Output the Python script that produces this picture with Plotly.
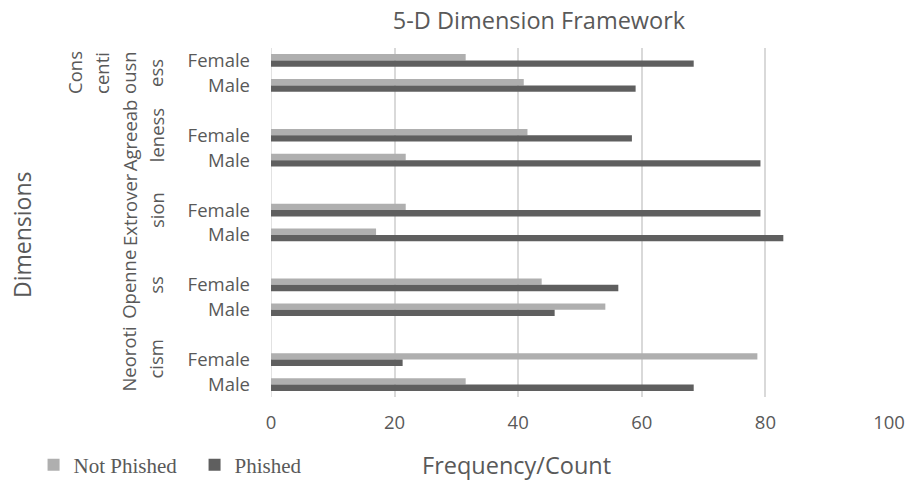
import plotly.graph_objects as go

# ---- data ----
dimensions = ["Conscientiousness", "Agreeableness", "Extroversion", "Openness", "Neoroticism"]
dimension_label_lines = [["Cons", "centi", "ousn", "ess"],
                         ["Agreeab", "leness"],
                         ["Extrover", "sion"],
                         ["Openne", "ss"],
                         ["Neoroti", "cism"]]
genders = ["Female", "Male"]
not_phished = [31.5, 40.9, 41.5, 21.8, 21.8, 17.0, 43.8, 54.1, 78.7, 31.5]
phished = [68.4, 59.0, 58.4, 79.2, 79.2, 82.9, 56.2, 45.9, 21.3, 68.4]
x_ticks = [0, 20, 40, 60, 80, 100]

# ---- style ----
W, H = 907, 481
ML, MR, MT, MB = 271, 18, 48, 84
FONT = "Open Sans"
TXT = "#595959"
C_LIGHT = "#afafaf"
C_DARK = "#5f5f5f"
GRID = "#d9d9d9"

# slot positions (top to bottom), a blank slot between dimension groups
slots = []
for g in range(len(dimensions)):
    for j in range(len(genders)):
        slots.append(3 * g + j)
tick_text = [genders[j] for g in range(len(dimensions)) for j in range(len(genders))]
n_slots = slots[-1] + 1

fig = go.Figure()
fig.add_trace(go.Bar(y=slots, x=not_phished, orientation="h", name="Not Phished",
                     marker=dict(color=C_LIGHT, line=dict(width=0))))
fig.add_trace(go.Bar(y=slots, x=phished, orientation="h", name="Phished",
                     marker=dict(color=C_DARK, line=dict(width=0))))

annotations = []
# dimension group labels (rotated, wrapped)
col_step = 27
last_col_x = 156  # px from left of figure (center of last line)
for g, lines in enumerate(dimension_label_lines):
    if g == 0:
        yc = (slots[0] + slots[1]) / 2
    else:
        yc = 3 * g
    n = len(lines)
    for k, line in enumerate(lines):
        xpx = last_col_x - (n - 1 - k) * col_step
        annotations.append(dict(text=line, textangle=-90, xref="paper", yref="y",
                                x=0, y=yc, xanchor="center", yanchor="middle",
                                xshift=xpx - ML, showarrow=False,
                                font=dict(family=FONT, size=18.5, color=TXT)))

# axis titles
annotations.append(dict(text="Dimensions", textangle=-90, xref="paper", yref="paper",
                        x=0, y=1 - (235 - MT) / (H - MT - MB), xanchor="center", yanchor="middle",
                        xshift=22 - ML, showarrow=False,
                        font=dict(family=FONT, size=23, color=TXT)))
annotations.append(dict(text="Frequency/Count", xref="paper", yref="paper",
                        x=(516 - ML) / (W - ML - MR), y=0, xanchor="center", yanchor="middle",
                        yshift=-(465 - (H - MB)), showarrow=False,
                        font=dict(family=FONT, size=23.5, color=TXT)))

fig.update_layout(
    width=W, height=H,
    margin=dict(l=ML, r=MR, t=MT, b=MB, autoexpand=False),
    paper_bgcolor="white", plot_bgcolor="white",
    barmode="group", bargap=0.49, bargroupgap=0,
    title=dict(text="5-D Dimension Framework", x=539 / W, xanchor="center",
               y=1 - 21 / H, yanchor="middle", xref="container", yref="container",
               font=dict(family=FONT, size=23.5, color=TXT)),
    xaxis=dict(range=[0, 100], tickvals=x_ticks, showgrid=True, gridcolor=GRID, gridwidth=1.5,
               zeroline=False, showline=False, ticks="", ticklabelstandoff=12,
               tickfont=dict(family=FONT, size=18.5, color=TXT)),
    yaxis=dict(range=[n_slots - 0.5, -0.5], tickvals=slots, ticktext=tick_text,
               showgrid=False, zeroline=False, showline=False, ticks="",
               ticklabelstandoff=20,
               tickfont=dict(family=FONT, size=18.5, color=TXT)),
    legend=dict(orientation="h", xref="container", yref="container",
                x=0.037, y=1 - 465 / H, xanchor="left", yanchor="middle",
                font=dict(family="Liberation Serif", size=21, color=TXT),
                itemwidth=30, entrywidth=116, bgcolor="rgba(0,0,0,0)"),
    annotations=annotations,
)
fig.add_shape(type="line", xref="x", yref="paper", x0=0, x1=0, y0=0, y1=1,
              line=dict(color=GRID, width=1.5), layer="below")

fig.write_html("out.html")
